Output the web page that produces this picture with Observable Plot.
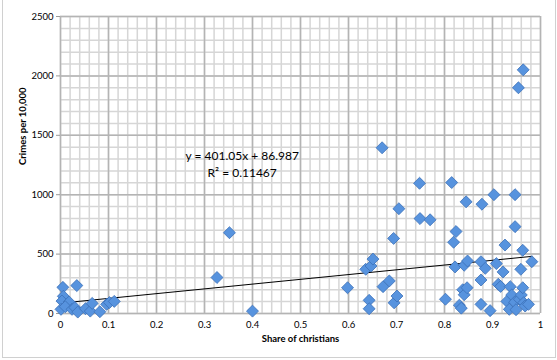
<!DOCTYPE html>
<html>
<head>
<meta charset="utf-8">
<script src="https://cdn.jsdelivr.net/npm/d3@7"></script>
<script src="https://cdn.jsdelivr.net/npm/@observablehq/plot@0.6"></script>
<style>
  html, body { margin: 0; padding: 0; background: #fff; }
  #wrap { position: relative; width: 557px; height: 360px; }
  #frame { position: absolute; left: 2px; top: -2px; width: 552px; height: 359px;
           border-left: 1px solid #d0d0d0; border-right: 1px solid #d0d0d0; border-bottom: 1px solid #d0d0d0; pointer-events: none; }
</style>
</head>
<body>
<div id="wrap"><div id="frame"></div></div>
<script>
// Share of christians (x) and crimes per 10,000 (y)
const shareChristians = [
  0.005, 0.034, 0.006, 0.003, 0.018, 0.001, 0.010, 0.024, 0.030, 0.036, 0.052, 0.062, 0.066, 0.082, 0.096, 0.102, 0.112,
  0.326, 0.400, 0.352,
  0.598, 0.643, 0.643, 0.636, 0.647, 0.651, 0.670, 0.672, 0.685, 0.694, 0.695, 0.701, 0.705,
  0.748, 0.749, 0.770, 0.802, 0.815, 0.819, 0.824, 0.822, 0.831, 0.835, 0.838, 0.841, 0.841,
  0.845, 0.847, 0.848, 0.876, 0.876, 0.876, 0.878, 0.885, 0.895, 0.903, 0.908, 0.912, 0.917,
  0.922, 0.926, 0.930, 0.935, 0.937, 0.940, 0.946, 0.947, 0.947, 0.949, 0.954, 0.956, 0.959,
  0.960, 0.963, 0.963, 0.964, 0.965, 0.968, 0.975, 0.982
];
const crimesPer10000 = [
  220, 235, 145, 105, 97, 35, 57, 35, 50, 12, 40, 20, 85, 15, 77, 92, 102,
  303, 20, 680,
  217, 111, 40, 372, 400, 458, 1395, 226, 274, 632, 90, 147, 882,
  1096, 799, 789, 120, 1102, 600, 690, 392, 70, 45, 200, 158, 406,
  940, 217, 442, 436, 282, 77, 920, 380, 24, 1000, 420, 246, 228,
  350, 576, 102, 35, 226, 156, 95, 1000, 731, 32, 1900, 120, 372,
  156, 217, 532, 2051, 91, 63, 77, 436
];

// Linear trendline reported on the chart
const trendSlope = 401.05;
const trendIntercept = 86.987;
const equationLabel = "y = 401.05x + 86.987";
const r2Label = "R² = 0.11467";

const xTicks = [0, 0.1, 0.2, 0.3, 0.4, 0.5, 0.6, 0.7, 0.8, 0.9, 1];
const xTickLabels = ["0", "0.1", "0.2", "0.3", "0.4", "0.5", "0.6", "0.7", "0.8", "0.9", "1"];
const yTicks = [0, 500, 1000, 1500, 2000, 2500];
const yTickLabels = ["0", "500", "1000", "1500", "2000", "2500"];
const xTitle = "Share of christians";
const yTitle = "Crimes per 10,000";

const points = shareChristians.map((x, i) => ({x, y: crimesPer10000[i]}));
const [xMin, xMax] = d3.extent(shareChristians);
const trend = [xMin, xMax].map(x => ({x, y: trendIntercept + trendSlope * x}));

const xMinor = d3.range(0, 51).map(i => i / 50);
const yMinor = d3.range(0, 26).map(i => i * 100);

const chart = Plot.plot({
  width: 557,
  height: 360,
  marginLeft: 60,
  marginRight: 17,
  marginTop: 16,
  marginBottom: 47,
  style: {fontFamily: "Lato, 'Liberation Sans', sans-serif", fontSize: "9.5px", color: "#000", background: "transparent"},
  x: {domain: [0, 1]},
  y: {domain: [0, 2500]},
  marks: [
    Plot.ruleX(xMinor, {stroke: "#d6d6d6", strokeWidth: 1.5}),
    Plot.ruleY(yMinor, {stroke: "#d6d6d6", strokeWidth: 1.5}),
    Plot.ruleX(xTicks, {stroke: "#b4b4b4", strokeWidth: 1.5}),
    Plot.ruleY(yTicks, {stroke: "#b4b4b4", strokeWidth: 1.5}),
    Plot.axisX({ticks: xTicks, tickFormat: d => xTickLabels[xTicks.indexOf(d)], tickSize: 0, tickPadding: 8, label: null}),
    Plot.axisY({ticks: yTicks, tickFormat: d => yTickLabels[yTicks.indexOf(d)], tickSize: 4, tickPadding: 3, stroke: "#999", label: null}),
    Plot.text([xTitle], {frameAnchor: "bottom", dy: 28, fontWeight: "bold", fontSize: 9.5}),
    Plot.text([yTitle], {frameAnchor: "left", dx: -38, rotate: -90, fontWeight: "bold", fontSize: 9.5}),
    Plot.line(trend, {x: "x", y: "y", stroke: "#000", strokeWidth: 1}),
    Plot.dot(points, {x: "x", y: "y", symbol: "diamond2", r: 5.4, fill: "#5793de", stroke: "#3b70b8", strokeWidth: 0.8}),
    Plot.text([equationLabel + "\n" + r2Label], {x: () => 0.3785, y: () => 1265, fontSize: 12, lineHeight: 1.4, textAnchor: "middle"})
  ]
});
document.getElementById("wrap").prepend(chart);
</script>
</body>
</html>
